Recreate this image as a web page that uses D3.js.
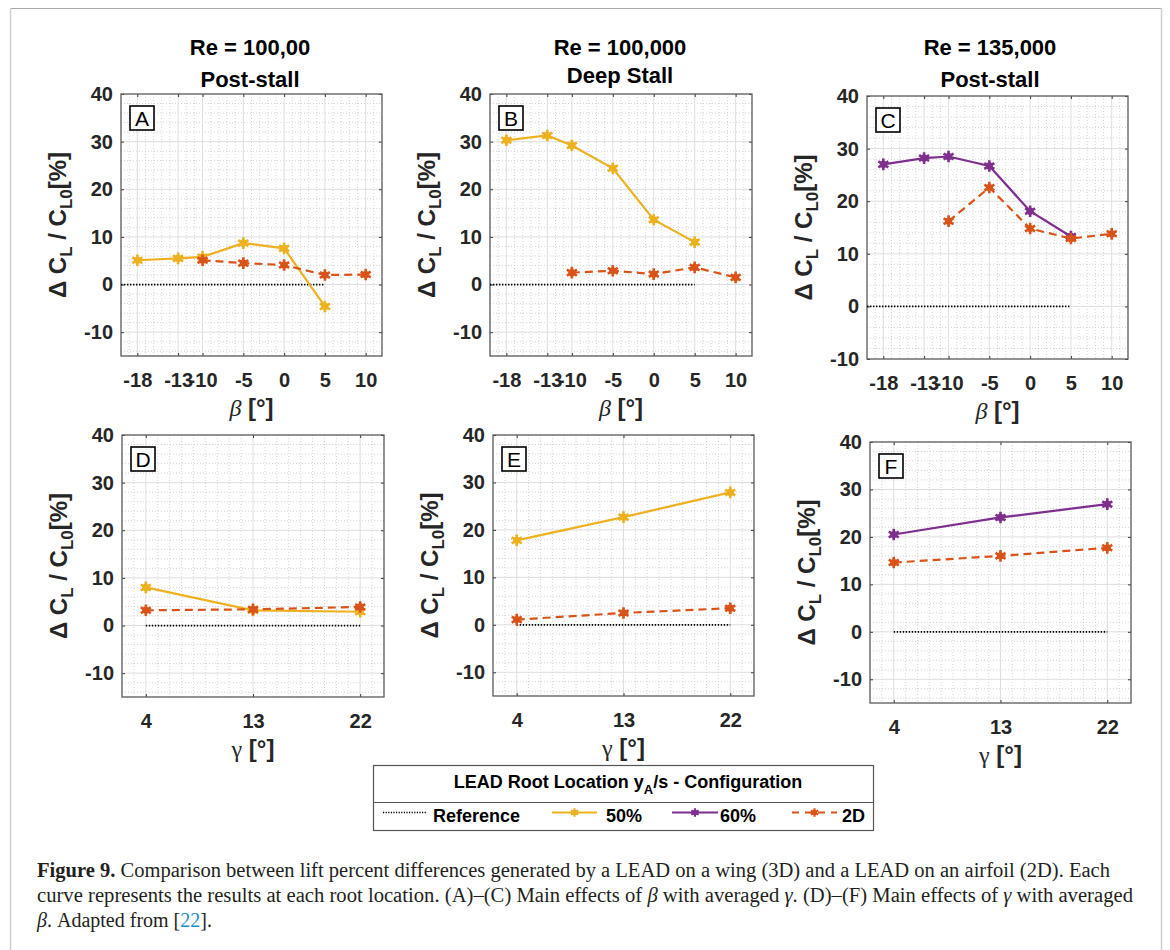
<!DOCTYPE html>
<html>
<head>
<meta charset="utf-8">
<script src="https://cdn.jsdelivr.net/npm/d3@7"></script>
<style>
  html, body { margin: 0; padding: 0; background: #fff; }
  svg { display: block; }
</style>
</head>
<body>
<svg id="fig" width="1170" height="950"></svg>
<script>
// ---- data ---------------------------------------------------------------
const betaTicks = [-18, -13, -10, -5, 0, 5, 10];
const gammaTicks = [4, 13, 22];
const yTickValues = [-10, 0, 10, 20, 30, 40];

const beta3D = [-18, -13, -10, -5, 0, 5];
const beta2D = [-10, -5, 0, 5, 10];
const gammaLevels = [4, 13, 22];

// Re = 100,00 post-stall, main effect of beta
const a50 = [5.1, 5.5, 5.8, 8.7, 7.6, -4.6];
const a2D = [5.1, 4.5, 4.1, 2.0, 2.1];
// Re = 100,000 deep stall, main effect of beta
const b50 = [30.3, 31.3, 29.2, 24.4, 13.6, 8.9];
const b2D = [2.5, 2.9, 2.2, 3.6, 1.5];
// Re = 135,000 post-stall, main effect of beta
const c60 = [27.0, 28.2, 28.5, 26.7, 18.1, 13.3];
const c2D = [16.2, 22.6, 14.8, 12.9, 13.8];
// main effect of gamma
const d50 = [8.0, 3.2, 2.9];
const d2D = [3.2, 3.4, 3.9];
const e50 = [17.8, 22.7, 27.9];
const e2D = [1.1, 2.5, 3.5];
const f60 = [20.5, 24.1, 26.9];
const f2D = [14.6, 16.0, 17.7];

const referenceBeta = [-20, 5];
const referenceGamma = [4, 22];

const titles = [
  ["Re = 100,00", "Post-stall"],
  ["Re = 100,000", "Deep Stall"],
  ["Re = 135,000", "Post-stall"]
];
const legendTitle = "LEAD Root Location y";
const legendLabels = ["Reference", "50%", "60%", "2D"];

// ---- styling ------------------------------------------------------------
const COL50 = "#EDB120", COL60 = "#7E2F8E", COL2D = "#D95319";
const SANS = "'Liberation Sans', Arial, Helvetica, sans-serif";
const SERIF = "'Liberation Serif', 'Times New Roman', serif";

const svg = d3.select("#fig");

// page frame
svg.append("line").attr("x1", 10).attr("x2", 1162).attr("y1", 8.5).attr("y2", 8.5)
  .attr("stroke", "#a9a9a9").attr("stroke-width", 1.2);
svg.append("line").attr("x1", 10.5).attr("x2", 10.5).attr("y1", 8).attr("y2", 950)
  .attr("stroke", "#cfcfcf").attr("stroke-width", 1.5);
svg.append("line").attr("x1", 1161.5).attr("x2", 1161.5).attr("y1", 8).attr("y2", 950)
  .attr("stroke", "#cfcfcf").attr("stroke-width", 1.5);

function panel(cfg) {
  const x = d3.scaleLinear().domain(cfg.xDomain).range([cfg.left, cfg.right]);
  const y = d3.scaleLinear().domain(cfg.yDomain).range([cfg.bottom, cfg.top]);
  const g = svg.append("g");

  // minor grid: every 1 unit along x, every 2 units along y
  const xMinor = d3.range(Math.ceil(cfg.xDomain[0]), cfg.xDomain[1] + 0.001, 1)
    .filter(v => !cfg.xTicks.includes(v) && v > cfg.xDomain[0] && v < cfg.xDomain[1]);
  const yMinor = d3.range(cfg.yDomain[0], cfg.yDomain[1], 1)
    .filter(v => v % 2 === 0 && v % 10 !== 0 && v > cfg.yDomain[0]);
  g.append("g").selectAll("line").data(xMinor).join("line")
    .attr("x1", d => x(d)).attr("x2", d => x(d))
    .attr("y1", cfg.top).attr("y2", cfg.bottom)
    .attr("stroke", "#c9c9c9").attr("stroke-width", 0.8).attr("stroke-dasharray", "1,2");
  g.append("g").selectAll("line").data(yMinor).join("line")
    .attr("x1", cfg.left).attr("x2", cfg.right)
    .attr("y1", d => y(d)).attr("y2", d => y(d))
    .attr("stroke", "#c9c9c9").attr("stroke-width", 0.8).attr("stroke-dasharray", "1,2");
  // major grid
  g.append("g").selectAll("line").data(cfg.xTicks).join("line")
    .attr("x1", d => x(d)).attr("x2", d => x(d))
    .attr("y1", cfg.top).attr("y2", cfg.bottom)
    .attr("stroke", "#dedede").attr("stroke-width", 1);
  g.append("g").selectAll("line").data(yTickValues.filter(v => v > cfg.yDomain[0] && v < cfg.yDomain[1])).join("line")
    .attr("x1", cfg.left).attr("x2", cfg.right)
    .attr("y1", d => y(d)).attr("y2", d => y(d))
    .attr("stroke", "#dedede").attr("stroke-width", 1);

  // axes with inward ticks
  const styleAxis = sel => {
    sel.select(".domain").remove();
    sel.selectAll(".tick line").attr("stroke", "#3a3a3a");
    sel.selectAll(".tick text").attr("fill", "#262626")
      .style("font-family", SANS).style("font-weight", "bold").style("font-size", "20px");
  };
  g.append("g").attr("transform", `translate(${cfg.left},0)`)
    .call(d3.axisLeft(y).tickValues(yTickValues).tickSize(-3).tickPadding(8))
    .call(styleAxis);
  g.append("g").attr("transform", `translate(${cfg.right},0)`)
    .call(d3.axisRight(y).tickValues(yTickValues).tickSize(-3).tickFormat(""))
    .call(styleAxis);
  g.append("g").attr("transform", `translate(0,${cfg.bottom})`)
    .call(d3.axisBottom(x).tickValues(cfg.xTicks).tickSize(-3).tickPadding(17).tickFormat(d3.format("d")))
    .call(styleAxis);
  g.append("g").attr("transform", `translate(0,${cfg.top})`)
    .call(d3.axisTop(x).tickValues(cfg.xTicks).tickSize(-3).tickFormat(""))
    .call(styleAxis);
  g.selectAll(".tick text").filter(function() { return this.textContent.startsWith("−"); })
    .text(function() { return this.textContent.replace("−", "-"); });

  // axes box
  g.append("rect").attr("x", cfg.left).attr("y", cfg.top)
    .attr("width", cfg.right - cfg.left).attr("height", cfg.bottom - cfg.top)
    .attr("fill", "none").attr("stroke", "#5a5a5a").attr("stroke-width", 1.3);

  // reference line
  const line = d3.line().x(d => x(d[0])).y(d => y(d[1]));
  g.append("path").datum(cfg.reference.map(v => [v, 0])).attr("d", line)
    .attr("fill", "none").attr("stroke", "#000").attr("stroke-width", 1.8)
    .attr("stroke-dasharray", "1.4,1.6");

  // series
  cfg.series.forEach(s => {
    const pts = s.x.map((v, i) => [v, s.y[i]]);
    g.append("path").datum(pts).attr("d", line)
      .attr("fill", "none").attr("stroke", s.color).attr("stroke-width", 2.2)
      .attr("stroke-dasharray", s.dashed ? "8,5" : null);
    drawMarkers(g, pts.map(p => [x(p[0]), y(p[1])]), s.color);
  });

  // panel letter
  g.append("rect").attr("x", cfg.left + 9).attr("y", cfg.top + 12)
    .attr("width", 24).attr("height", 24)
    .attr("fill", "#fff").attr("stroke", "#000").attr("stroke-width", 1.6);
  g.append("text").attr("x", cfg.left + 21).attr("y", cfg.top + 31.5)
    .attr("text-anchor", "middle").style("font-family", SANS).style("font-size", "21px")
    .text(cfg.letter);

  // y label: Δ C_L / C_L0[%]
  const cx = cfg.left - 55, cy = (cfg.top + cfg.bottom) / 2;
  const yl = g.append("text").attr("transform", `translate(${cx},${cy}) rotate(-90)`)
    .attr("text-anchor", "middle").attr("fill", "#262626")
    .style("font-family", SANS).style("font-weight", "bold").style("font-size", "24px");
  yl.append("tspan").text("Δ C");
  yl.append("tspan").attr("dy", 6).style("font-size", "17px").text("L");
  yl.append("tspan").attr("dy", -6).text(" / C");
  yl.append("tspan").attr("dy", 6).style("font-size", "17px").text("L0");
  yl.append("tspan").attr("dy", -6).text("[%]");

  // x label
  const xl = g.append("text").attr("x", (cfg.left + cfg.right) / 2).attr("y", cfg.bottom + 60)
    .attr("text-anchor", "middle").attr("fill", "#262626").style("font-size", "24px");
  xl.append("tspan").style("font-family", SERIF).style("font-style", cfg.xItalic ? "italic" : "normal").text(cfg.xSymbol);
  xl.append("tspan").style("font-family", SANS).style("font-weight", "bold").text(" [°]");
}

function drawMarkers(g, pts, color) {
  const sym = d3.symbol().type(d3.symbolAsterisk).size(95);
  g.append("g").selectAll("circle").data(pts).join("circle")
    .attr("cx", d => d[0]).attr("cy", d => d[1]).attr("r", 3.6).attr("fill", color);
  g.append("g").selectAll("path").data(pts).join("path")
    .attr("transform", d => `translate(${d[0]},${d[1]})`)
    .attr("d", sym).attr("fill", "none").attr("stroke", color).attr("stroke-width", 2.6);
}

const betaPanel = { xDomain: [-20, 12], xTicks: betaTicks, xSymbol: "β", xItalic: true, reference: referenceBeta };
const gammaPanel = { xDomain: [2, 24], xTicks: gammaTicks, xSymbol: "γ", xItalic: false, reference: referenceGamma };

panel({ ...betaPanel, letter: "A", left: 121, right: 382, top: 94, bottom: 356, yDomain: [-15, 40],
  series: [{ x: beta3D, y: a50, color: COL50 }, { x: beta2D, y: a2D, color: COL2D, dashed: true }] });
panel({ ...betaPanel, letter: "B", left: 490, right: 752, top: 94, bottom: 356, yDomain: [-15, 40],
  series: [{ x: beta3D, y: b50, color: COL50 }, { x: beta2D, y: b2D, color: COL2D, dashed: true }] });
panel({ ...betaPanel, letter: "C", left: 867, right: 1128, top: 96, bottom: 359, yDomain: [-10, 40],
  series: [{ x: beta3D, y: c60, color: COL60 }, { x: beta2D, y: c2D, color: COL2D, dashed: true }] });
panel({ ...gammaPanel, letter: "D", left: 122, right: 384, top: 435, bottom: 697, yDomain: [-15, 40],
  series: [{ x: gammaLevels, y: d50, color: COL50 }, { x: gammaLevels, y: d2D, color: COL2D, dashed: true }] });
panel({ ...gammaPanel, letter: "E", left: 493, right: 754, top: 435, bottom: 696, yDomain: [-15, 40],
  series: [{ x: gammaLevels, y: e50, color: COL50 }, { x: gammaLevels, y: e2D, color: COL2D, dashed: true }] });
panel({ ...gammaPanel, letter: "F", left: 870, right: 1131, top: 442, bottom: 703, yDomain: [-15, 40],
  series: [{ x: gammaLevels, y: f60, color: COL60 }, { x: gammaLevels, y: f2D, color: COL2D, dashed: true }] });

// column titles
const titleX = [250, 620, 990];
const titleY = [[55, 87], [55, 83], [55, 87]];
titles.forEach((t, i) => {
  t.forEach((line, j) => {
    svg.append("text").attr("x", titleX[i]).attr("y", titleY[i][j])
      .attr("text-anchor", "middle").attr("fill", "#000")
      .style("font-family", SANS).style("font-weight", "bold").style("font-size", "22px")
      .text(line);
  });
});

// legend
const lg = svg.append("g");
lg.append("rect").attr("x", 373.5).attr("y", 765.5).attr("width", 500).attr("height", 65)
  .attr("fill", "#fff").attr("stroke", "#555").attr("stroke-width", 1.2);
lg.append("line").attr("x1", 373.5).attr("x2", 873.5).attr("y1", 802.5).attr("y2", 802.5)
  .attr("stroke", "#555").attr("stroke-width", 1.2);
const lt = lg.append("text").attr("x", 628).attr("y", 788).attr("text-anchor", "middle")
  .style("font-family", SANS).style("font-weight", "bold").style("font-size", "18px").attr("fill", "#000");
lt.append("tspan").text(legendTitle);
lt.append("tspan").attr("dy", 6).style("font-size", "13px").text("A");
lt.append("tspan").attr("dy", -6).text("/s - Configuration");

const legendItems = [
  { x1: 383, x2: 427, tx: 433, color: "#000", dotted: true },
  { x1: 552, x2: 597, tx: 606, color: COL50 },
  { x1: 672, x2: 718, tx: 720, color: COL60 },
  { x1: 792, x2: 837, tx: 842, color: COL2D, dashed: true }
];
legendItems.forEach((it, i) => {
  const ly = 812.5;
  lg.append("line").attr("x1", it.x1).attr("x2", it.x2).attr("y1", ly).attr("y2", ly)
    .attr("stroke", it.color).attr("stroke-width", it.dotted ? 1.6 : 2)
    .attr("stroke-dasharray", it.dotted ? "1.2,1.4" : it.dashed ? "7,6" : null);
  if (!it.dotted) {
    const mx = (it.x1 + it.x2) / 2;
    lg.append("path").attr("transform", `translate(${mx},${ly})`)
      .attr("d", d3.symbol().type(d3.symbolAsterisk).size(50))
      .attr("fill", "none").attr("stroke", it.color).attr("stroke-width", 2.2);
    lg.append("circle").attr("cx", mx).attr("cy", ly).attr("r", 2.6).attr("fill", it.color);
  }
  lg.append("text").attr("x", it.tx).attr("y", 822)
    .style("font-family", SANS).style("font-weight", "bold").style("font-size", "18px")
    .attr("fill", "#000").text(legendLabels[i]);
});

// caption
const cap = svg.append("g").style("font-family", SERIF).style("font-size", "20px").attr("fill", "#231f20");
const c1 = cap.append("text").attr("x", 37).attr("y", 877)
  .attr("textLength", 1073).attr("lengthAdjust", "spacingAndGlyphs");
c1.append("tspan").style("font-weight", "bold").text("Figure 9.");
c1.append("tspan").text("  Comparison between lift percent differences generated by a LEAD on a wing (3D) and a LEAD on an airfoil (2D). Each");
const c2 = cap.append("text").attr("x", 37).attr("y", 902)
  .attr("textLength", 1096).attr("lengthAdjust", "spacingAndGlyphs");
c2.append("tspan").text("curve represents the results at each root location. (A)–(C) Main effects of ");
c2.append("tspan").style("font-style", "italic").text("β");
c2.append("tspan").text(" with averaged ");
c2.append("tspan").style("font-style", "italic").text("γ");
c2.append("tspan").text(". (D)–(F) Main effects of ");
c2.append("tspan").style("font-style", "italic").text("γ");
c2.append("tspan").text(" with averaged");
const c3 = cap.append("text").attr("x", 37).attr("y", 927);
c3.append("tspan").style("font-style", "italic").text("β");
c3.append("tspan").text(". Adapted from [");
c3.append("tspan").attr("fill", "#1a8fd0").text("22");
c3.append("tspan").text("].");
</script>
</body>
</html>
